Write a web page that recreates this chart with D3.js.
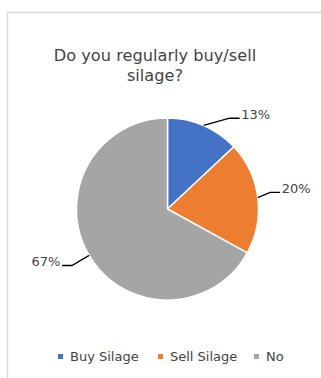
<!DOCTYPE html>
<html>
<head>
<meta charset="utf-8">
<script src="https://cdn.jsdelivr.net/npm/d3@7"></script>
<style>
  html, body { margin: 0; padding: 0; background: #fff; }
  svg { display: block; }
  text { font-family: "DejaVu Sans", "Open Sans", sans-serif; fill: #444; }
</style>
</head>
<body>
<svg id="chart" width="321" height="378"></svg>
<script>
// Survey answers
const categories = ["Buy Silage", "Sell Silage", "No"];
const values = [13, 20, 67];
const colors = ["#4472C4", "#ED7D31", "#A5A5A5"];
const titleLines = ["Do you regularly buy/sell", "silage?"];

const W = 321, H = 378;
const svg = d3.select("#chart");

// chart area frame (runs past the right and bottom edges)
svg.append("rect")
  .attr("x", 7.5).attr("y", 12.5)
  .attr("width", 400).attr("height", 400)
  .attr("fill", "#fff")
  .attr("stroke", "#d9d9d9")
  .attr("stroke-width", 1.5);

// title
svg.append("g").selectAll("text")
  .data(titleLines)
  .join("text")
  .attr("x", 155)
  .attr("y", (d, i) => 61 + i * 20)
  .attr("text-anchor", "middle")
  .attr("font-size", 16.2)
  .text(d => d);

// pie
const cx = 167.5, cy = 209, R = 91;
const pie = d3.pie().sort(null).value(d => d.value);
const arcs = pie(categories.map((c, i) => ({ name: c, value: values[i], color: colors[i] })));
const arc = d3.arc().innerRadius(0).outerRadius(R);

const g = svg.append("g").attr("transform", `translate(${cx},${cy})`);
g.selectAll("path")
  .data(arcs)
  .join("path")
  .attr("d", arc)
  .attr("fill", d => d.data.color)
  .attr("stroke", "#fff")
  .attr("stroke-width", 1.5)
  .attr("stroke-linejoin", "round");

// leader lines: edge point at mid angle -> elbow -> short horizontal to label
const elbowShift = [11, -2, 0];      // degrees away from the slice middle
const elbowRadius = [110, 104, 111];
const tail = 10;
const polar = (r, a) => [r * Math.sin(a), -r * Math.cos(a)];

arcs.forEach((d, i) => {
  const mid = (d.startAngle + d.endAngle) / 2;
  const p0 = polar(R, mid);
  const p1 = polar(elbowRadius[i], mid + elbowShift[i] * Math.PI / 180);
  const right = Math.sin(mid + elbowShift[i] * Math.PI / 180) >= 0;
  const p2 = [p1[0] + (right ? tail : -tail), p1[1]];
  g.append("path")
    .attr("d", d3.line()([p0, p1, p2]))
    .attr("fill", "none")
    .attr("stroke", "#000")
    .attr("stroke-width", 1.3);
  g.append("text")
    .attr("x", p2[0] + (right ? 1.5 : -1.5))
    .attr("y", p1[1] + 0.5)
    .attr("text-anchor", right ? "start" : "end")
    .attr("font-size", 13)
    .text(Math.round(d.value) + "%");
});

// legend
const legendX = [58, 158, 254];
const legend = svg.append("g");
categories.forEach((c, i) => {
  legend.append("rect")
    .attr("x", legendX[i]).attr("y", 354)
    .attr("width", 5).attr("height", 5)
    .attr("fill", colors[i]);
  legend.append("text")
    .attr("x", legendX[i] + 12)
    .attr("y", 361)
    .attr("font-size", 13)
    .text(c);
});
</script>
</body>
</html>
